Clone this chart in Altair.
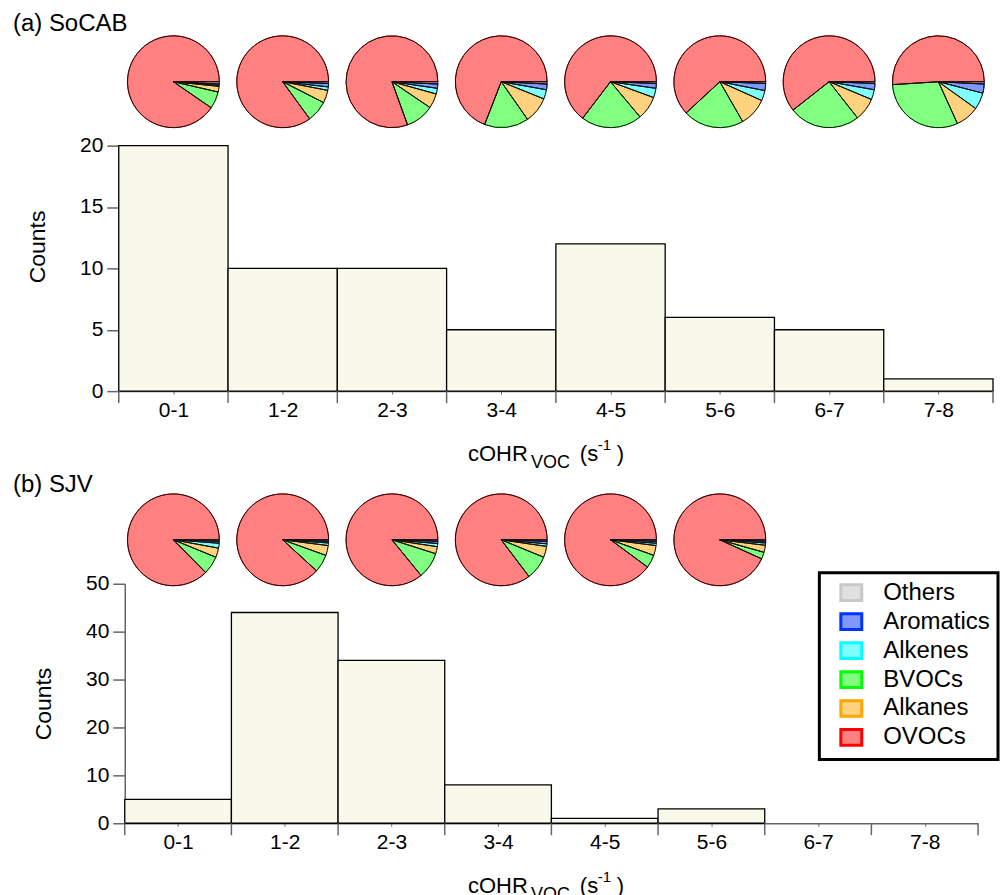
import math
import altair as alt
import pandas as pd

# ---------------- data ----------------
bin_labels = ["0-1", "1-2", "2-3", "3-4", "4-5", "5-6", "6-7", "7-8"]
bin_lo = [0, 1, 2, 3, 4, 5, 6, 7]
bin_edges = [0, 1, 2, 3, 4, 5, 6, 7, 8]
counts_socab = [20, 10, 10, 5, 12, 6, 5, 1]
counts_sjv = [5, 44, 34, 8, 1, 3, 0, 0]

legend_order = ["Others", "Aromatics", "Alkenes", "BVOCs", "Alkanes", "OVOCs"]
pie_order = ["Others", "Aromatics", "Alkenes", "Alkanes", "BVOCs", "OVOCs"]  # clockwise from 3 o'clock
fill_colors = ["#E0E0E0", "#8099FF", "#80FFFF", "#80FF80", "#FFD280", "#FF8080"]
stroke_colors = ["#C8C8C8", "#0033FF", "#00FFFF", "#00FF00", "#FFA500", "#FF0000"]

# percent contributions, one value per bin (SoCAB: 8 bins)
socab_others = [0.8, 0.6, 0.8, 0.8, 0.6, 0.6, 0.6, 0.8]
socab_aromatics = [0.5, 1.2, 1.5, 2.0, 1.7, 2.5, 2.2, 3.2]
socab_alkenes = [0.3, 1.2, 2.0, 3.3, 3.3, 3.6, 3.5, 5.9]
socab_alkanes = [2.0, 4.5, 5.2, 9.2, 8.3, 10.0, 8.1, 8.3]
socab_bvocs = [6.0, 7.5, 10.0, 15.6, 21.5, 21.4, 25.0, 30.8]
socab_ovocs = [90.4, 85.0, 80.5, 69.1, 64.6, 61.9, 60.6, 51.0]

# SJV: 6 bins with pies
sjv_others = [0.5, 0.5, 0.5, 0.5, 0.5, 0.5]
sjv_aromatics = [0.7, 0.6, 0.8, 0.9, 0.7, 0.6]
sjv_alkenes = [1.7, 0.9, 1.1, 0.9, 0.8, 0.8]
sjv_alkanes = [3.3, 3.5, 2.5, 3.9, 3.5, 2.5]
sjv_bvocs = [6.4, 6.3, 9.2, 8.5, 4.6, 2.4]
sjv_ovocs = [87.4, 88.2, 85.9, 85.3, 89.9, 93.2]

panel_labels = ["(a) SoCAB", "(b) SJV"]
x_title_parts = ["cOHR", "VOC", "(s", "-1", ")"]
y_title = "Counts"

FONT = "Liberation Sans"
W = 876
R = 46


def bar_frame(counts):
    return pd.DataFrame({"lo": bin_lo, "hi": [v + 1 for v in bin_lo], "count": counts,
                         "base": [0] * len(counts)})


def pie_frame(series):
    rows = []
    for cat, vals in zip(pie_order, series):
        for i, v in enumerate(vals):
            rows.append({"bin": i, "center": bin_lo[i] + 0.5, "category": cat,
                         "order": pie_order.index(cat), "frac": v})
    return pd.DataFrame(rows)


socab_pies = pie_frame([socab_others, socab_aromatics, socab_alkenes,
                        socab_alkanes, socab_bvocs, socab_ovocs])
sjv_pies = pie_frame([sjv_others, sjv_aromatics, sjv_alkenes,
                      sjv_alkanes, sjv_bvocs, sjv_ovocs])

label_expr = "[" + ",".join("'%s'" % s for s in bin_labels) + "][floor(datum.value)]"


def panel(counts, pies, ymax, ystep, height, xrange, yoffset, pie_y, label, label_y,
          show_legend, ytitle_y):
    bars_df = bar_frame(counts)
    xs_bar = alt.Scale(domain=[0, 8], range=xrange, nice=False, zero=False)
    xs_pie = alt.Scale(domain=[0, 8], range=[0, W], nice=False, zero=False)

    bars = alt.Chart(bars_df).transform_filter("datum.count > 0").mark_rect(
        fill="#F8F8EB", stroke="black", strokeWidth=1.3
    ).encode(
        x=alt.X("lo:Q", scale=xs_bar,
                axis=alt.Axis(values=[v + 0.5 for v in bin_lo], labelExpr=label_expr,
                              tickSize=3, title=None, grid=False, domainColor="#666666",
                              tickColor="#666666", domainWidth=1.5, labelFontSize=21,
                              labelColor="black", labelPadding=5, labelFont=FONT)),
        x2="hi:Q",
        y=alt.Y("count:Q", scale=alt.Scale(domain=[0, ymax], nice=False),
                axis=alt.Axis(values=list(range(0, ymax + 1, ystep)), tickSize=12,
                              grid=False, domainColor="#666666", tickColor="#666666",
                              domainWidth=1.5, tickWidth=1.5, labelFontSize=21,
                              labelColor="black", labelPadding=4, labelFont=FONT,
                              title=y_title, titleFontSize=23, titleFontWeight="normal",
                              titleColor="black", titleFont=FONT, titlePadding=30,
                              titleY=ytitle_y, offset=yoffset)),
        y2="base:Q",
    )

    edges = alt.Chart(pd.DataFrame({"edge": bin_edges})).mark_rule(
        color="#666666", strokeWidth=1.5
    ).encode(
        x=alt.X("edge:Q", scale=xs_bar, axis=None),
        y=alt.value(height),
        y2=alt.value(height + 12),
    )

    pie_base = alt.Chart(pies).transform_window(
        cum="sum(frac)", groupby=["bin"], sort=[alt.SortField("order")], frame=[None, 0]
    ).transform_joinaggregate(
        total="sum(frac)", groupby=["bin"]
    ).transform_calculate(
        start="(datum.cum - datum.frac) / datum.total",
        end="datum.cum / datum.total",
    )
    theta = alt.Theta("start:Q", stack=None,
                      scale=alt.Scale(domain=[0, 1], range=[math.pi / 2, math.pi / 2 + 2 * math.pi]))
    leg = alt.Legend(orient="none", legendX=702, legendY=-11, title=None,
                     symbolType="M-1,-0.75H1V0.75H-1Z", symbolSize=440,
                     symbolStrokeWidth=3, labelFontSize=24, labelFont=FONT,
                     labelColor="black", rowPadding=1, labelOffset=20, padding=8,
                     symbolOffset=12, strokeColor="black", fillColor="white",
                     symbolOpacity=1) if show_legend else None
    fill = alt.Fill("category:N", scale=alt.Scale(domain=legend_order, range=fill_colors),
                    legend=leg)
    stroke = alt.Stroke("category:N", scale=alt.Scale(domain=legend_order, range=stroke_colors),
                        legend=leg)
    xpie = alt.X("center:Q", scale=xs_pie, axis=None, stack=None)
    pie_fill = pie_base.mark_arc(radius=R, strokeWidth=1, opacity=1).encode(
        x=xpie,
        y=alt.value(pie_y),
        theta=theta,
        theta2="end:Q",
        fill=fill,
        stroke=stroke,
    )
    pie_line = pie_base.mark_arc(radius=R, filled=False, stroke="#111111", strokeWidth=1).encode(
        x=xpie,
        y=alt.value(pie_y),
        theta=theta,
        theta2="end:Q",
    )

    def txt(s, x, y, size):
        return alt.Chart(pd.DataFrame({"t": [s]})).mark_text(
            align="left", baseline="alphabetic", fontSize=size, font=FONT, color="black"
        ).encode(text="t:N", x=alt.value(x), y=alt.value(y))

    tb = height + 70
    texts = [
        txt(label, -106, label_y, 24),
        txt(x_title_parts[0], 350, tb, 22),
        txt(x_title_parts[1], 413, tb + 7, 18),
        txt(x_title_parts[2], 462, tb, 22),
        txt(x_title_parts[3], 480, tb - 11, 15),
        txt(x_title_parts[4], 499, tb, 22),
    ]

    return alt.layer(bars, edges, pie_fill, pie_line, *texts).resolve_scale(
        x="independent"
    ).properties(width=W, height=height)


top = panel(counts_socab, socab_pies, 20, 5, 246, [0, W], 0, -64, panel_labels[0], -115,
            False, 101)
bottom = panel(counts_sjv, sjv_pies, 50, 10, 240, [6, 861], -6, -44, panel_labels[1], -92,
               True, 120)

chart = alt.vconcat(top, bottom, spacing=1).resolve_legend(
    fill="independent", stroke="independent"
).configure_view(stroke=None).configure_legend(strokeWidth=3).properties(
    padding={"left": 13, "top": 11, "right": 0, "bottom": 0}
)

chart.save("out.html", embed_options={"renderer": "svg", "actions": False})
